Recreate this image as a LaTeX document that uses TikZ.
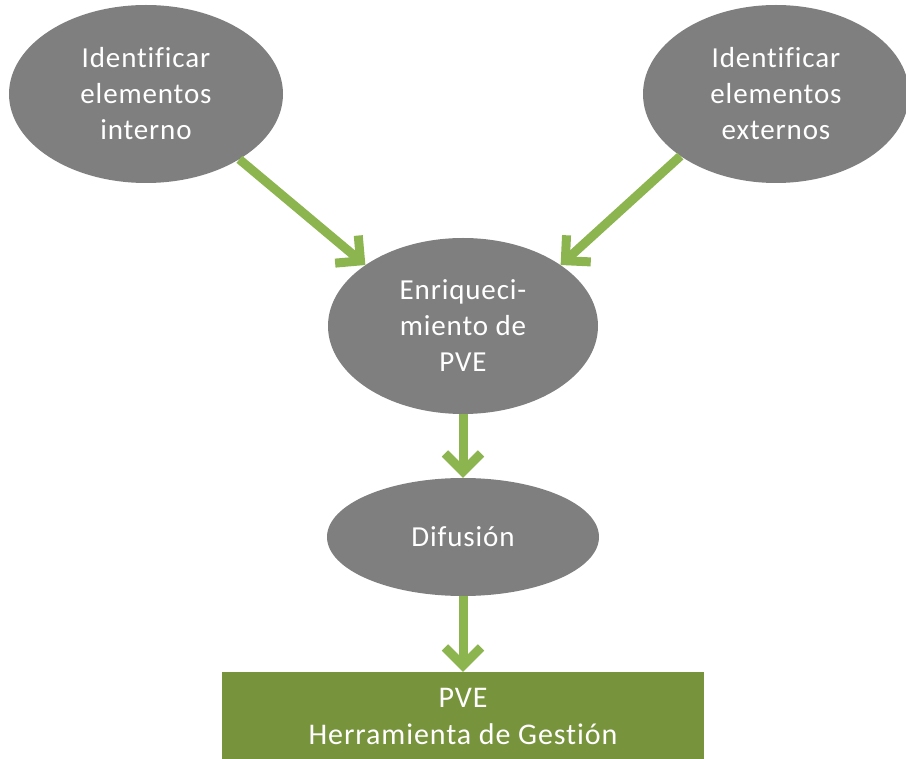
\documentclass[tikz,border=0pt]{standalone}
\usepackage{fontspec}
\setmainfont{Carlito}[Ligatures=NoCommon, LetterSpace=3]
\usetikzlibrary{shapes.geometric,arrows.meta}
\definecolor{ovalgray}{HTML}{7F7F7F}
\definecolor{arrowgreen}{HTML}{8CB54F}
\definecolor{boxgreen}{HTML}{77933C}
\tikzset{
  oval/.style={ellipse, fill=ovalgray, draw=none, inner sep=0pt, text=white, align=center,
    font=\fontsize{29}{36}\selectfont},
  flow/.style={draw=arrowgreen, line width=9pt,
    -{Straight Barb[length=18pt,width=36pt,line width=9pt]}},
  goalbox/.style={rectangle, fill=boxgreen, draw=none, text=white, align=center, inner sep=0pt,
    font=\fontsize{30}{37}\selectfont}
}
\begin{document}
\begin{tikzpicture}[x=1pt,y=-1pt]
\useasboundingbox (0,0) rectangle (906,759);
\node[oval, minimum width=274pt, minimum height=178pt] (e1) at (146,94) {Identificar\\elementos\\interno};
\node[oval, minimum width=266pt, minimum height=178pt] (e2) at (776,94) {Identificar\\elementos\\externos};
\node[oval, minimum width=270pt, minimum height=176pt] (e3) at (463,326) {Enriqueci-\\miento de\\PVE};
\node[oval, minimum width=272pt, minimum height=118pt] (e4) at (463,537) {Difusión};
\node[goalbox, minimum width=482pt, minimum height=88pt] (g) at (463,716) {PVE\\Herramienta de Gestión};
\draw[flow] (e1.-35) -- (e3.148);
\draw[flow] (e2.-147) -- (e3.32);
\draw[flow] (e3.south) -- (e4.north);
\draw[flow] (e4.south) -- (g.north);
\end{tikzpicture}
\end{document}
